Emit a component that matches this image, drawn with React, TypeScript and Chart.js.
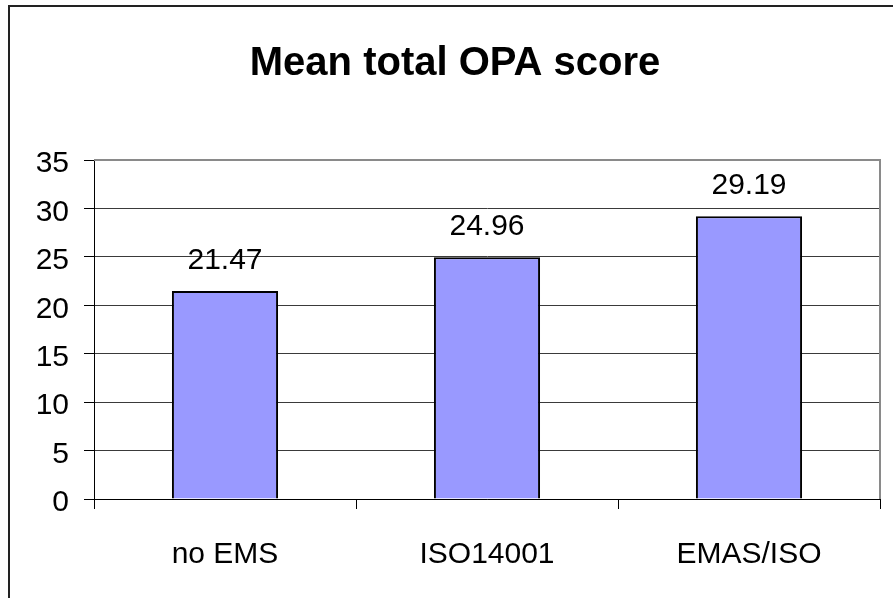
import React, { useEffect, useRef } from "react";
import { Chart, registerables } from "chart.js";

Chart.register(...registerables);

const categories = ["no EMS", "ISO14001", "EMAS/ISO"];
const meanScores = [21.47, 24.96, 29.19];
const yTicks = [0, 5, 10, 15, 20, 25, 30, 35];
const chartTitle = "Mean total OPA score";

const FONT = "Arial, 'Liberation Sans', sans-serif";

const valueLabels = {
  id: "valueLabels",
  afterDatasetsDraw(chart: any) {
    const ctx = chart.ctx;
    const meta = chart.getDatasetMeta(0);
    ctx.save();
    ctx.font = `30px ${FONT}`;
    ctx.fillStyle = "#000";
    ctx.textAlign = "center";
    ctx.textBaseline = "alphabetic";
    meta.data.forEach((bar: any, i: number) => {
      ctx.fillText(meanScores[i].toFixed(2), bar.x, bar.y - 22);
    });
    ctx.restore();
  },
};

const plotBorder = {
  id: "plotBorder",
  beforeDatasetsDraw(chart: any) {
    const { ctx, chartArea } = chart;
    ctx.save();
    ctx.strokeStyle = "#8a8a8a";
    ctx.lineWidth = 2;
    ctx.beginPath();
    ctx.moveTo(chartArea.left, chartArea.top);
    ctx.lineTo(chartArea.right, chartArea.top);
    ctx.lineTo(chartArea.right, chartArea.bottom);
    ctx.stroke();
    ctx.restore();
  },
};

export default function App() {
  const ref = useRef<HTMLCanvasElement | null>(null);
  useEffect(() => {
    if (!ref.current) return;
    const chart = new Chart(ref.current, {
      type: "bar",
      data: {
        labels: categories,
        datasets: [
          {
            data: meanScores,
            backgroundColor: "#9999FF",
            borderColor: "#000",
            borderWidth: 2,
            barPercentage: 0.405,
            categoryPercentage: 1,
          },
        ],
      },
      options: {
        animation: false,
        responsive: false,
        layout: { padding: { left: 30, right: 13, top: 0, bottom: 0 } },
        plugins: {
          legend: { display: false },
          tooltip: { enabled: false },
          title: {
            display: true,
            text: chartTitle,
            color: "#000",
            font: { family: FONT, size: 40, weight: "bold" },
            padding: { top: 40, bottom: 72 },
          },
        },
        scales: {
          x: {
            grid: {
              offset: true,
              drawOnChartArea: false,
              drawTicks: true,
              tickLength: 10,
              tickColor: "#000",
            },
            border: { color: "#000", width: 1 },
            ticks: {
              color: "#000",
              font: { family: FONT, size: 30 },
              padding: 28,
              maxRotation: 0,
            },
            afterFit(scale: any) {
              scale.height = 99;
            },
          },
          y: {
            min: 0,
            max: 35,
            afterBuildTicks(scale: any) {
              scale.ticks = yTicks.map((v) => ({ value: v }));
            },
            grid: {
              color: "#3a3a3a",
              lineWidth: 1,
              tickLength: 10,
              tickColor: "#000",
            },
            border: { color: "#000", width: 1 },
            ticks: {
              color: "#000",
              font: { family: FONT, size: 30 },
              padding: 15,
              labelOffset: 4,
            },
            afterFit(scale: any) {
              scale.width = 64;
            },
          },
        },
      },
      plugins: [plotBorder, valueLabels],
    });
    return () => chart.destroy();
  }, []);

  return (
    <div
      style={{
        position: "fixed",
        left: 0,
        top: 0,
        width: 893,
        height: 598,
        background: "#fff",
        overflow: "hidden",
      }}
    >
      <canvas ref={ref} width={893} height={598} style={{ width: 893, height: 598, display: "block" }} />
      <div
        style={{
          position: "absolute",
          left: 8,
          top: 5,
          width: 1000,
          height: 1000,
          borderLeft: "2px solid #222",
          borderTop: "2px solid #222",
          pointerEvents: "none",
        }}
      />
    </div>
  );
}
